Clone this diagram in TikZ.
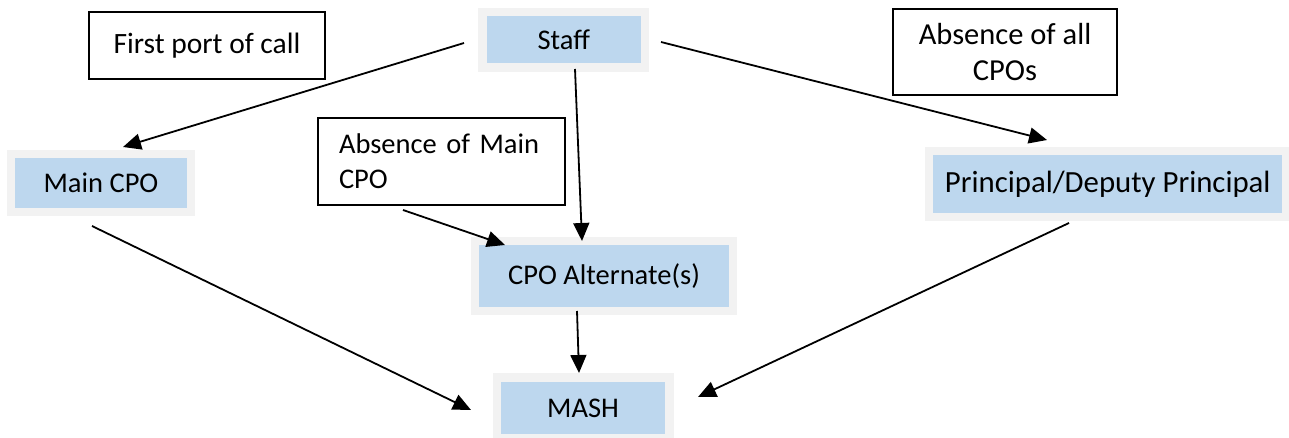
\documentclass[tikz,border=0pt]{standalone}
\usepackage{fontspec}
\setmainfont{Carlito}
\usetikzlibrary{arrows.meta}
\definecolor{boxblue}{HTML}{BDD7EE}
\definecolor{boxgrey}{HTML}{F2F2F2}
\begin{document}
\begin{tikzpicture}[x=1pt,y=-1pt,
  role/.style={fill=boxblue,draw=boxgrey,line width=8.5pt,inner sep=0pt,
    font=\fontsize{28.5}{35}\selectfont,align=center},
  note/.style={draw=black,line width=1.8pt,inner sep=0pt,
    font=\fontsize{28.5}{35}\selectfont},
  conn/.style={line width=1.8pt,-{Triangle[length=18pt,width=16pt]}}]
\useasboundingbox (0,0) rectangle (1289,438);
% role boxes
\node[role,minimum width=162.5pt,minimum height=55.5pt] (staff) at (563.75,39.75) {Staff};
\node[role,minimum width=180pt,minimum height=58pt] (main) at (101,183) {Main CPO};
\node[role,minimum width=258pt,minimum height=69.5pt] (alt) at (604,276) {CPO Alternate(s)};
\node[role,minimum width=172.5pt,minimum height=61pt] (mash) at (583,408) {MASH};
\node[role,minimum width=357.5pt,minimum height=66pt,font=\fontsize{30.8}{36}\selectfont] (prin) at (1107.75,184) {Principal/Deputy Principal};
% note boxes
\node[note,minimum width=236pt,minimum height=67pt,font=\fontsize{29.5}{35}\selectfont] (first) at (207,45.5) {First port of call};
\node[note,minimum width=224pt,minimum height=86pt,align=center,font=\fontsize{30.5}{36}\selectfont] (allabs) at (1005,52) {Absence of all\\CPOs};
\node[note,minimum width=247pt,minimum height=87pt,align=left,text width=205pt] (mainabs) at (441.5,161.5) {Absence of Main\\CPO};
% connector end points
\coordinate (s1) at (464,43);
\coordinate (m1) at (123,147);
\coordinate (s2) at (575,69);
\coordinate (a2) at (582,241);
\coordinate (s3) at (661,42);
\coordinate (p3) at (1047,140);
\coordinate (n4) at (403,210);
\coordinate (a4) at (505,245);
\coordinate (m5) at (92,226);
\coordinate (h5) at (471,410);
\coordinate (a6) at (577,311);
\coordinate (h6) at (579,373);
\coordinate (p7) at (1069,223);
\coordinate (h7) at (698,397);
% connectors
\draw[conn] (s1) -- (m1);
\draw[conn] (s2) -- (a2);
\draw[conn] (s3) -- (p3);
\draw[conn] (n4) -- (a4);
\draw[conn] (m5) -- (h5);
\draw[conn] (a6) -- (h6);
\draw[conn] (p7) -- (h7);
\end{tikzpicture}
\end{document}
